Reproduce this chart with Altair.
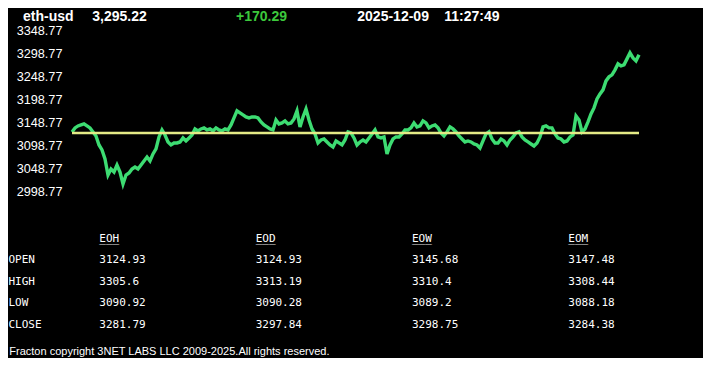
import altair as alt
import pandas as pd

# ---------------- data ----------------
symbol = "eth-usd"
last_price = "3,295.22"
change = "+170.29"
date_str = "2025-12-09"
time_str = "11:27:49"

price = [
    3127.2, 3135.9, 3140.2, 3142.4, 3144.6, 3140.2, 3135.9, 3127.2, 3118.5, 3098.9,
    3088.0, 3068.4, 3033.6, 3046.6, 3040.1, 3055.3, 3040.1, 3014.0, 3033.6, 3037.9,
    3046.6, 3051.0, 3046.6, 3055.3, 3064.0, 3072.7, 3064.0, 3079.3, 3090.2, 3116.3,
    3131.5, 3120.6, 3105.4, 3098.9, 3103.2, 3103.2, 3105.4, 3114.1, 3107.6, 3114.1,
    3120.6, 3133.7, 3129.3, 3133.7, 3135.9, 3131.5, 3133.7, 3129.3, 3135.9, 3131.5,
    3129.3, 3133.7, 3131.5, 3142.4, 3157.6, 3172.9, 3168.5, 3164.2, 3159.8, 3157.6,
    3159.8, 3159.8, 3157.6, 3148.9, 3142.4, 3138.0, 3133.7, 3131.5, 3153.3, 3144.6,
    3146.7, 3151.1, 3144.6, 3146.7, 3155.5, 3172.9, 3138.0, 3159.8, 3177.2, 3153.3,
    3133.7, 3122.8, 3103.2, 3109.7, 3111.9, 3105.4, 3098.9, 3094.5, 3107.6, 3103.2,
    3098.9, 3109.7, 3127.2, 3125.0, 3114.1, 3098.9, 3105.4, 3109.7, 3105.4, 3114.1,
    3122.8, 3131.5, 3116.3, 3114.1, 3116.3, 3079.3, 3098.9, 3111.9, 3116.3, 3116.3,
    3122.8, 3131.5, 3131.5, 3135.9, 3146.7, 3138.0, 3140.2, 3151.1, 3146.7, 3135.9,
    3140.2, 3142.4, 3135.9, 3125.0, 3118.5, 3127.2, 3138.0, 3133.7, 3127.2, 3118.5,
    3111.9, 3105.4, 3107.6, 3105.4, 3101.0, 3098.9, 3092.3, 3107.6, 3122.8, 3127.2,
    3111.9, 3103.2, 3103.2, 3111.9, 3107.6, 3098.9, 3109.7, 3116.3, 3125.0, 3127.2,
    3116.3, 3109.7, 3105.4, 3101.0, 3096.7, 3103.2, 3116.3, 3138.0, 3140.2, 3135.9,
    3135.9, 3122.8, 3114.1, 3111.9, 3105.4, 3107.6, 3116.3, 3120.6, 3162.0, 3153.3,
    3127.2, 3133.7, 3148.9, 3166.3, 3179.4, 3199.0, 3209.9, 3218.6, 3238.2, 3246.9,
    3251.2, 3262.1, 3275.2, 3270.8, 3273.0, 3286.0, 3299.1, 3288.2, 3281.7, 3295.2,
]
open_level = [3124.93]
y_ticks = [2998.77, 3048.77, 3098.77, 3148.77, 3198.77, 3248.77, 3298.77, 3348.77]

table_cols = ["EOH", "EOD", "EOW", "EOM"]
table_rows = ["OPEN", "HIGH", "LOW", "CLOSE"]
eoh = ["3124.93", "3305.6", "3090.92", "3281.79"]
eod = ["3124.93", "3313.19", "3090.28", "3297.84"]
eow = ["3145.68", "3310.4", "3089.2", "3298.75"]
eom = ["3147.48", "3308.44", "3088.18", "3284.38"]
footer = "Fracton copyright 3NET LABS LLC 2009-2025.All rights reserved."

# ---------------- styles ----------------
GREEN_LINE = "#3ddc72"
YELLOW = "#e4ea86"
GREEN_TXT = "#3cc83c"
SANS = "Liberation Sans"
MONO = "DejaVu Sans Mono"
W, H = 567, 161
TOP = 22.0            # plot top inside the chart (page y = 8 + TOP)
OFF = 8 + TOP         # page y of the plot top


def py(page_y):
    """page pixel row -> plot-relative pixel row (layout only)"""
    return page_y - OFF


price_df = pd.DataFrame({"t": list(range(len(price))), "price": price})
open_df = pd.DataFrame({"open": open_level})

yscale = alt.Scale(domain=[y_ticks[0], y_ticks[-1]], zero=False, nice=False)
xscale = alt.Scale(domain=[0, len(price) - 1], zero=False, nice=False)

line = alt.Chart(price_df).mark_line(color=GREEN_LINE, strokeWidth=3.4).encode(
    x=alt.X("t:Q", scale=xscale, axis=None),
    y=alt.Y(
        "price:Q",
        scale=yscale,
        axis=alt.Axis(
            values=y_ticks, format=".2f", labelColor="white", labelFont=SANS,
            labelFontSize=12.7, domain=False, ticks=False, tickSize=0, grid=False,
            labelPadding=10, labelFlush=False, labelOverlap=False, title=None,
        ),
    ),
)

rule = alt.Chart(open_df).mark_rule(color=YELLOW, strokeWidth=2.5).encode(
    y=alt.Y("open:Q", scale=yscale, axis=None),
)


def header_text(txt, x, color="white"):
    return alt.Chart(pd.DataFrame({"s": [txt]})).mark_text(
        font=SANS, fontSize=14, fontWeight="bold", color=color,
        align="left", baseline="alphabetic",
    ).encode(text="s:N", x=alt.value(x), y=alt.value(py(20.5)))


headers = [
    header_text(symbol, -49),
    header_text(last_price, 20.3),
    header_text(change, 164, GREEN_TXT),
    header_text(date_str, 285.3),
    header_text(time_str, 372.3),
]

# table
cells = []
for c, vals in zip(table_cols, [eoh, eod, eow, eom]):
    for r, v in zip(table_rows, vals):
        cells.append({"row": r, "col": c, "txt": v})
    cells.append({"row": " ", "col": c, "txt": c})
cells_df = pd.DataFrame(cells)
hdr_df = pd.DataFrame({"row": [" "] * len(table_cols), "col": table_cols,
                       "txt": ["_" * len(c) for c in table_cols]})
rows_df = pd.DataFrame({"row": table_rows})

row_domain = [" "] + table_rows
tbl_y = alt.Scale(domain=row_domain, range=[py(238.5), py(324.5)], padding=0)
tbl_x = alt.Scale(domain=table_cols, range=[27.3, 496.3], padding=0)

cell_layer = alt.Chart(cells_df).mark_text(
    font=MONO, fontSize=11, color="white", align="left", baseline="middle"
).encode(
    x=alt.X("col:N", scale=tbl_x, axis=None),
    y=alt.Y("row:N", scale=tbl_y, axis=None),
    text="txt:N",
)
underline_layer = alt.Chart(hdr_df).mark_text(
    font=MONO, fontSize=11, color="white", align="left", baseline="middle"
).encode(
    x=alt.X("col:N", scale=tbl_x, axis=None),
    y=alt.Y("row:N", scale=tbl_y, axis=None),
    text="txt:N",
)
rowlabel_layer = alt.Chart(rows_df).mark_text(
    font=MONO, fontSize=11, color="white", align="left", baseline="middle"
).encode(
    x=alt.value(-63.5),
    y=alt.Y("row:N", scale=tbl_y, axis=None),
    text="row:N",
)
footer_layer = alt.Chart(pd.DataFrame({"s": [footer]})).mark_text(
    font=SANS, fontSize=11, color="white", align="left", baseline="middle"
).encode(text="s:N", x=alt.value(-62.7), y=alt.value(py(351.5)))

chart = alt.layer(
    line, rule, *headers, cell_layer, underline_layer, rowlabel_layer, footer_layer
).resolve_scale(
    x="independent", y="independent"
).properties(
    width=W, height=H,
    padding={"left": 64, "top": TOP, "right": 64, "bottom": 350 - TOP - H},
    autosize=alt.AutoSizeParams(type="none"),
    background="black",
).configure_view(strokeWidth=0)

chart.save("out.html", embed_options={"renderer": "svg", "actions": False})
